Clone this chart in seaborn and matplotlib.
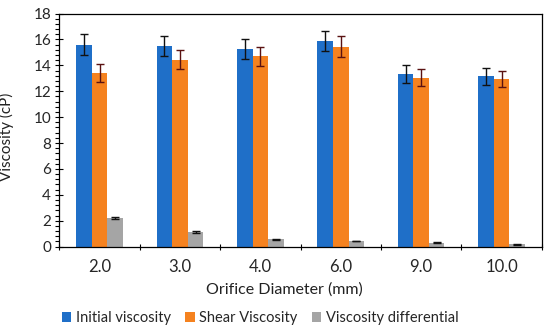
import numpy as np
import pandas as pd
import seaborn as sns
import matplotlib
matplotlib.use("Agg")
import matplotlib.pyplot as plt
from matplotlib.ticker import MultipleLocator, FixedLocator
from matplotlib.patches import Patch

diameters = ["2.0", "3.0", "4.0", "6.0", "9.0", "10.0"]
series = ["Initial viscosity", "Shear Viscosity", "Viscosity differential"]
initial = [15.6, 15.5, 15.25, 15.9, 13.35, 13.15]
initial_err = [0.8, 0.8, 0.78, 0.78, 0.68, 0.65]
shear = [13.4, 14.45, 14.7, 15.45, 13.05, 12.95]
shear_err = [0.68, 0.7, 0.73, 0.78, 0.65, 0.65]
differential = [2.2, 1.12, 0.55, 0.44, 0.31, 0.18]
differential_err = [0.1, 0.05, 0.03, 0.03, 0.02, 0.02]

colors = ["#1F6FC8", "#F5821F", "#A5A5A5"]
err_colors = ["#111111", "#5A1212", "#111111"]

df = pd.DataFrame({
    "Diameter": diameters * 3,
    "Series": [s for s in series for _ in diameters],
    "Viscosity": initial + shear + differential,
})
errs = [initial_err, shear_err, differential_err]
vals = [initial, shear, differential]

sns.set_theme(style="white")
plt.rcParams["font.family"] = ["Lato", "DejaVu Sans"]

fig = plt.figure(figsize=(5.5, 3.31), dpi=100)
ax = fig.add_axes([0.108, 0.255, 0.877, 0.704])

sns.barplot(data=df, x="Diameter", y="Viscosity", hue="Series", order=diameters,
            hue_order=series, palette=colors, width=0.58, errorbar=None,
            saturation=1, ax=ax, legend=False, edgecolor="none", linewidth=0)

n = len(diameters)
bar_containers = list(ax.containers)
for i, cont in enumerate(bar_containers):
    xs = [p.get_x() + p.get_width() / 2 for p in cont.patches]
    ax.errorbar(xs, vals[i], yerr=errs[i], fmt="none", ecolor=err_colors[i],
                elinewidth=1.0, capsize=2.6, capthick=1.0, zorder=5)

ax.set_xlim(-0.5, n - 0.5)
ax.set_ylim(0, 18)
ax.yaxis.set_major_locator(MultipleLocator(2))
ax.yaxis.set_minor_locator(MultipleLocator(0.4))
ax.tick_params(axis="y", which="major", direction="inout", length=6, width=0.8,
               color="black", labelsize=11, pad=3, left=True)
ax.tick_params(axis="y", which="minor", direction="out", length=3, width=0.8,
               color="black", left=True)
ax.xaxis.set_minor_locator(FixedLocator(np.arange(-0.5, n, 1.0)))
ax.tick_params(axis="x", which="major", length=0, labelsize=12, pad=9)
ax.tick_params(axis="x", which="minor", direction="inout", length=5, width=0.8,
               color="black", bottom=True)

for sp in ax.spines.values():
    sp.set_visible(True)
    sp.set_color("black")
    sp.set_linewidth(0.9)

ax.set_xlabel("Orifice Diameter (mm)", fontsize=11.5, color="#222222")
ax.xaxis.set_label_coords(0.466, -0.155)
ax.set_ylabel("Viscosity (cP)", fontsize=11, color="#222222")
ax.yaxis.set_label_coords(-0.095, 0.47)

handles = [Patch(facecolor=c, edgecolor="none") for c in colors]
fig.legend(handles, series, loc="center", bbox_to_anchor=(0.473, 0.04), ncol=3,
           frameon=False, fontsize=10.5, handlelength=0.65, handleheight=0.65,
           handletextpad=0.3, columnspacing=1.0)

fig.savefig("out.png", dpi=100)
